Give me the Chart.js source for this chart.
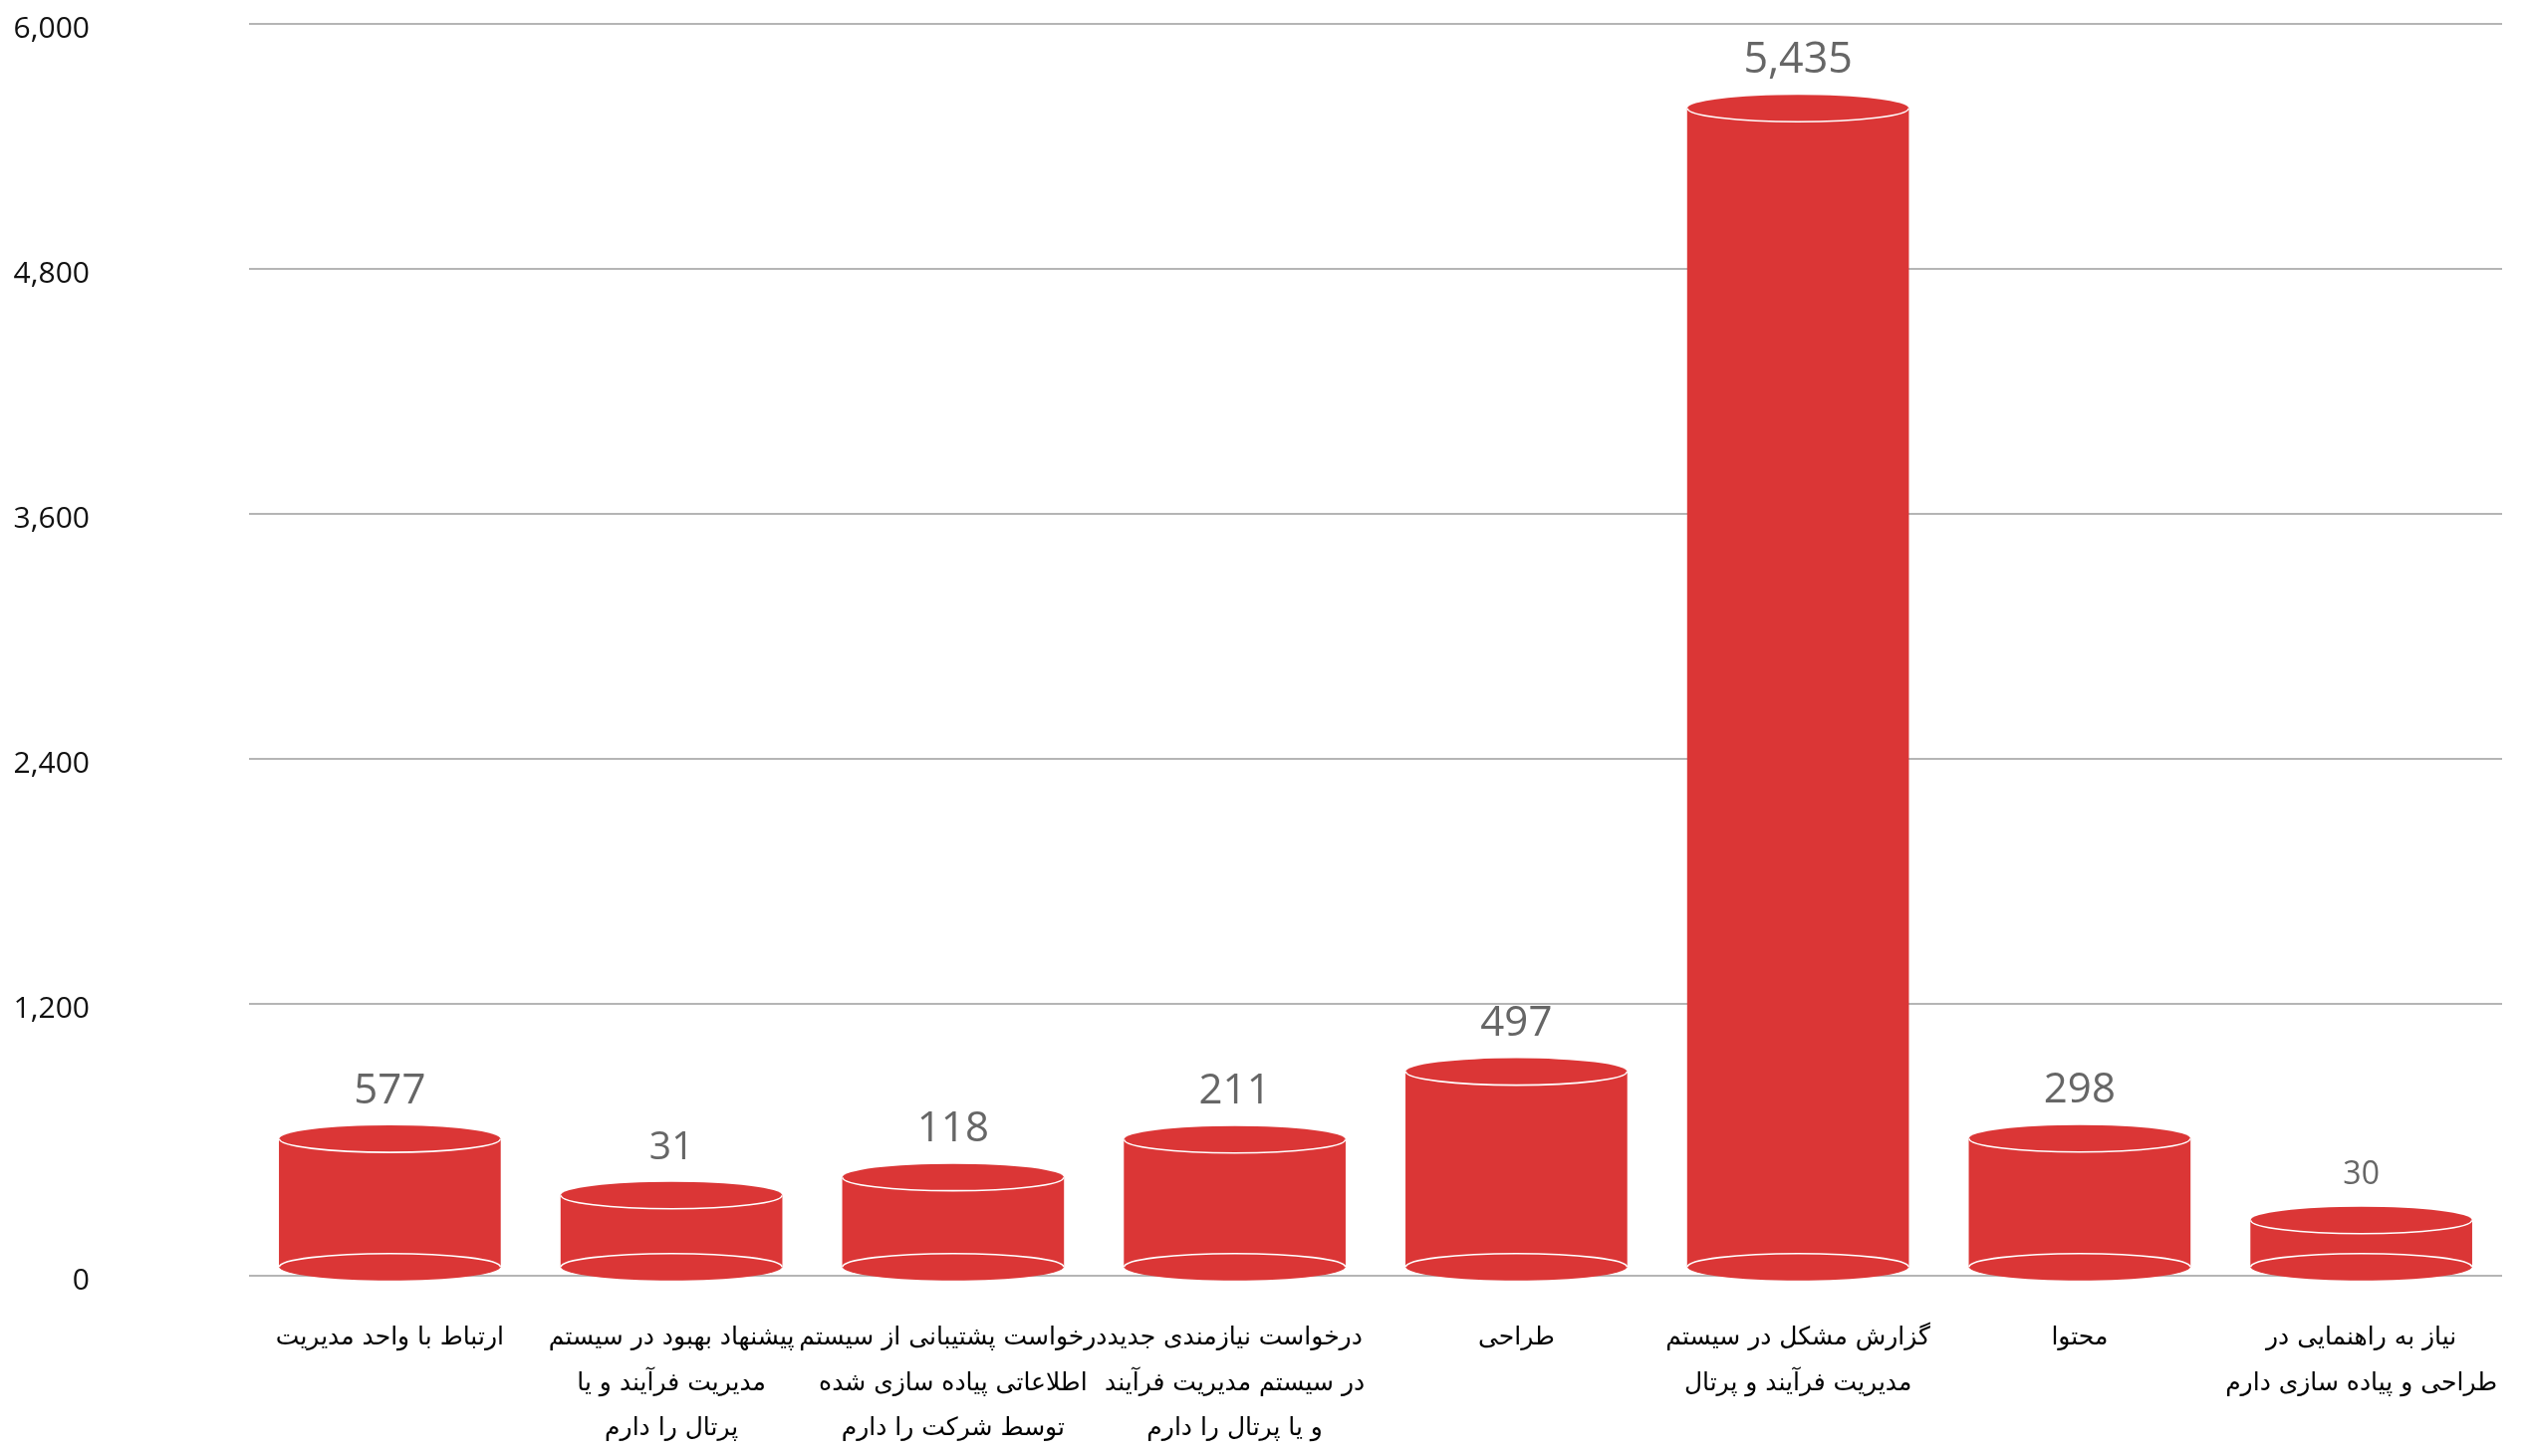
<!DOCTYPE html>
<html lang="fa">
  <head>
    <meta charset="UTF-8" />
    <title>Requests by type</title>
    <script src="https://cdn.jsdelivr.net/npm/chart.js"></script>
    <style>
      body { margin: 0; background: #fff; }
      #wrap { width: 2538px; height: 1462px; }
    </style>
  </head>
  <body>
    <div id="wrap"><canvas id="chart" width="2538" height="1462"></canvas></div>
    <script>
      // categories (multi-line labels as in the original)
      const categories = [
        "ارتباط با واحد مدیریت",
        ["پیشنهاد بهبود در سیستم", "مدیریت فرآیند و یا", "پرتال را دارم"],
        ["درخواست پشتیبانی از سیستم", "اطلاعاتی پیاده سازی شده", "توسط شرکت را دارم"],
        ["درخواست نیازمندی جدید", "در سیستم مدیریت فرآیند", "و یا پرتال را دارم"],
        "طراحی",
        ["گزارش مشکل در سیستم", "مدیریت فرآیند و پرتال"],
        "محتوا",
        ["نیاز به راهنمایی در", "طراحی و پیاده سازی دارم"]
      ];
      // numbers printed above each cylinder
      const valueLabels = [577, 31, 118, 211, 497, 5435, 298, 30];
      // cylinder heights as drawn against the axis (they don't follow the printed numbers)
      const barHeights = [541, 265, 353, 538, 870, 5587, 543, 143];
      // y axis ticks; the "0" line sits a bit lower than the even spacing would put it
      const yTicks = [0, 1200, 2400, 3600, 4800, 6000];
      const zeroLine = -129;
      const barBase = -86;

      const red = "#db3636";
      const labelSizes = [42, 39, 42, 42, 42, 43, 42, 32];

      const cylinders = {
        id: "cylinders",
        afterDatasetsDraw(chart) {
          const ctx = chart.ctx;
          const meta = chart.getDatasetMeta(0);
          meta.data.forEach((bar, i) => {
            const { x, y, base, width } = bar.getProps(["x", "y", "base", "width"], true);
            const rx = width / 2, ry = 13.5;
            ctx.save();
            ctx.fillStyle = red;
            ctx.strokeStyle = "#fff";
            ctx.lineWidth = 1.6;
            // bottom cap
            ctx.beginPath();
            ctx.ellipse(x, base, rx, ry, 0, 0, Math.PI * 2);
            ctx.fill();
            ctx.beginPath();
            ctx.ellipse(x, base, rx, ry, 0, Math.PI, Math.PI * 2);
            ctx.stroke();
            // top cap
            ctx.beginPath();
            ctx.ellipse(x, y, rx, ry, 0, 0, Math.PI * 2);
            ctx.fill();
            ctx.beginPath();
            ctx.ellipse(x, y, rx, ry, 0, 0, Math.PI);
            ctx.stroke();
            // value label
            ctx.fillStyle = "#666";
            ctx.font = labelSizes[i] + "px 'Open Sans'";
            ctx.textAlign = "center";
            ctx.textBaseline = "alphabetic";
            ctx.fillText(valueLabels[i].toLocaleString("en-US"), x, y - 36);
            ctx.restore();
          });
        }
      };

      new Chart(document.getElementById("chart"), {
        type: "bar",
        data: {
          labels: categories,
          datasets: [
            {
              data: barHeights,
              base: barBase,
              backgroundColor: red,
              borderWidth: 0,
              barThickness: 222
            }
          ]
        },
        options: {
          responsive: false,
          animation: false,
          layout: { padding: { top: 24, right: 26, left: 0, bottom: 0 } },
          plugins: { legend: { display: false }, tooltip: { enabled: false } },
          scales: {
            x: {
              grid: { display: false },
              border: { display: false },
              ticks: {
                color: "#000",
                padding: 32,
                maxRotation: 0,
                autoSkip: false,
                font: { family: "'DejaVu Sans'", size: 25, lineHeight: 1.82 }
              },
              afterFit(scale) {
                scale.height = 181;
                scale.paddingLeft = 0;
                scale.paddingRight = 0;
              }
            },
            y: {
              min: zeroLine,
              max: 6000,
              grid: { color: "#b5b5b5", lineWidth: 2, drawTicks: false },
              border: { display: false },
              ticks: {
                color: "#111",
                padding: 160,
                labelOffset: 5,
                font: { family: "'Open Sans'", size: 30 },
                callback: (v) => (v === zeroLine ? "0" : v.toLocaleString("en-US"))
              },
              afterBuildTicks(scale) {
                scale.ticks = yTicks.map((t) => ({ value: t === 0 ? zeroLine : t }));
              },
              afterFit(scale) {
                scale.width = 250;
                // the big label padding shouldn't push the plot down
                scale.paddingTop = 0;
                scale.paddingBottom = 0;
              }
            }
          }
        },
        plugins: [cylinders]
      });
    </script>
  </body>
</html>
